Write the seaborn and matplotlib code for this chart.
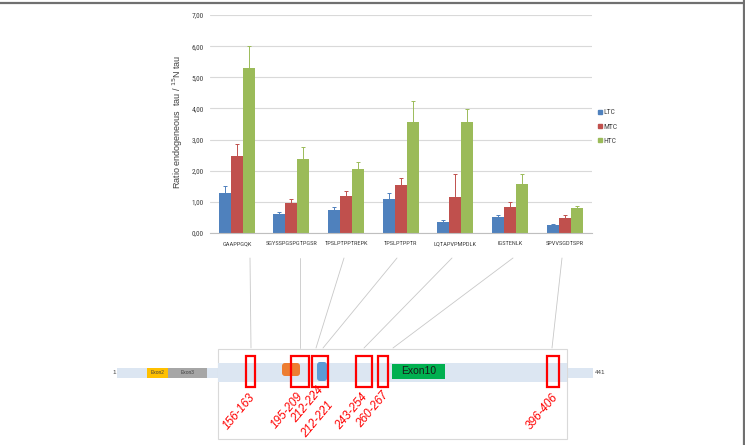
import numpy as np
import pandas as pd
import matplotlib
matplotlib.use('Agg')
import matplotlib.pyplot as plt
from matplotlib import font_manager
from matplotlib.lines import Line2D
from matplotlib.patches import Rectangle, FancyBboxPatch
from matplotlib.ticker import FuncFormatter
import seaborn as sns

## data
peptides = ['GAAPPGQK', 'SGYSSPGSPGTPGSR', 'TPSLPTPPTREPK', 'TPSLPTPPTR',
            'LQTAPVPMPDLK', 'IGSTENLK', 'SPVVSGDTSPR']
groups = ['LTC', 'MTC', 'HTC']
ltc = [1.27, 0.62, 0.75, 1.08, 0.35, 0.50, 0.26]
mtc = [2.48, 0.96, 1.18, 1.53, 1.16, 0.85, 0.48]
htc = [5.30, 2.38, 2.07, 3.57, 3.57, 1.58, 0.80]
ltc_err = [0.25, 0.06, 0.10, 0.19, 0.08, 0.07, 0.04]
mtc_err = [0.37, 0.14, 0.17, 0.25, 0.74, 0.13, 0.10]
htc_err = [0.70, 0.38, 0.20, 0.68, 0.40, 0.32, 0.08]
y_ticks = [0, 1, 2, 3, 4, 5, 6, 7]

## tau protein schematic
regions = ['156-163', '195-209', '212-224', '243-254', '260-267', '396-406']
extra_label = '212-221'
exon_labels = ['Exon2', 'Exon3', 'Exon10']
end_labels = ['1', '441']

colors = ['#4F81BD', '#C0504D', '#9BBB59']

# layout of the schematic (pixels, not to scale in the original either)
region_x = [(246, 255), (291, 309), (312, 328), (356, 372), (378, 388), (547, 559)]
region_lab = [(239, 412), (287, 411), (308, 405), (352, 412), (373, 410), (542, 412)]
link_top = [250, 300, 344, 397, 452, 513, 562]
link_bot = [251, 300, 316, 323, 364, 393, 552]

sns.set_style('white')
installed = {f.name for f in font_manager.fontManager.ttflist}
narrow = [n for n in ['Liberation Sans Narrow', 'Roboto Condensed', 'Open Sans Condensed',
                      'DejaVu Sans Condensed'] if n in installed]
plt.rcParams['font.family'] = ['Liberation Sans', 'DejaVu Sans']
small_font = narrow[:1] + ['Liberation Sans', 'DejaVu Sans']

fig = plt.figure(figsize=(7.45, 4.45), dpi=100)
ax = fig.add_axes([209.5 / 745, 1 - 233 / 445, 382.5 / 745, 218 / 445])

df = pd.DataFrame({
    'peptide': peptides * 3,
    'group': np.repeat(groups, len(peptides)),
    'ratio': ltc + mtc + htc,
})
sns.barplot(data=df, x='peptide', y='ratio', hue='group', hue_order=groups,
            palette=colors, width=0.66, errorbar=None, saturation=1,
            linewidth=0, legend=False, ax=ax)

errs = [ltc_err, mtc_err, htc_err]
for cont, err, c in zip(ax.containers, errs, colors):
    xs = [b.get_x() + b.get_width() / 2 for b in cont]
    hs = [b.get_height() for b in cont]
    ax.errorbar(xs, hs, yerr=[np.zeros(len(err)), err], fmt='none',
                ecolor=c, elinewidth=0.7, capsize=1.5, capthick=0.7)

ax.set_ylim(0, 7)
ax.set_xlim(-0.5, len(peptides) - 0.5)
ax.set_yticks(y_ticks)
ax.yaxis.set_major_formatter(FuncFormatter(lambda v, p: '{:.2f}'.format(v).replace('.', ',')))
ax.grid(axis='y', color='#d9d9d9', linewidth=0.8)
ax.set_axisbelow(True)
for s in ['left', 'top', 'right']:
    ax.spines[s].set_visible(False)
ax.spines['bottom'].set_color('#bfbfbf')
ax.spines['bottom'].set_linewidth(0.8)
ax.set_xticks(np.arange(-0.5, len(peptides)), minor=True)
ax.tick_params(axis='x', which='major', length=0, pad=6, labelsize=5.5, labelcolor='#404040')
ax.tick_params(axis='x', which='minor', length=3, color='#bfbfbf', width=0.8)
ax.tick_params(axis='y', length=0, pad=4, labelsize=5.3, labelcolor='#404040')
for t in ax.get_xticklabels() + ax.get_yticklabels():
    t.set_family(small_font)
ax.set_xlabel('')
ax.set_ylabel(r'Ratio endogeneous  tau / $^{15}$N tau', fontsize=6.5, color='#404040')
ax.yaxis.set_label_coords(-0.063, 0.51)

# shrink the peptide labels until they fit in their slot (no narrow font guaranteed)
fig.canvas.draw()
rend = fig.canvas.get_renderer()
widest = max(t.get_window_extent(rend).width for t in ax.get_xticklabels())
if widest > 52:
    ax.tick_params(axis='x', which='major', labelsize=5.5 * 52 / widest)

handles = [Line2D([], [], marker='s', linestyle='', color=c, markersize=2.8) for c in colors]
leg = fig.legend(handles, groups, loc='upper left', bbox_to_anchor=(597 / 745, 1 - 109 / 445),
                 frameon=False, fontsize=5.5, handletextpad=0.1, labelspacing=1.05,
                 borderaxespad=0, borderpad=0, handlelength=0.8, labelcolor='#404040')
for t in leg.get_texts():
    t.set_family(small_font)

## schematic
ax2 = fig.add_axes([0, 0, 1, 1])
ax2.set_xlim(0, 745)
ax2.set_ylim(445, 0)
ax2.axis('off')

# frame of the figure
ax2.plot([0, 745], [2.5, 2.5], color='#707070', lw=1.6)
ax2.plot([744, 744], [0, 445], color='#707070', lw=1.6)

for xt, xb in zip(link_top, link_bot):
    ax2.plot([xt, xb], [258, 348], color='#c8c8c8', lw=0.6)

bar_col = '#dce6f2'
ax2.add_patch(Rectangle((117, 368), 101, 10, color=bar_col, lw=0))
ax2.add_patch(Rectangle((567, 368), 26, 10, color=bar_col, lw=0))
ax2.add_patch(Rectangle((218, 349), 349, 90, facecolor='white', edgecolor='#d9d9d9', lw=0.8))
ax2.add_patch(Rectangle((218, 363), 349, 19, color=bar_col, lw=0))

ax2.add_patch(Rectangle((147, 368), 21, 10, color='#FFC000', lw=0))
ax2.add_patch(Rectangle((168, 368), 39, 10, color='#A6A6A6', lw=0))
ax2.text(157.5, 373, exon_labels[0], fontsize=3.5, ha='center', va='center', color='#404040')
ax2.text(187.5, 373, exon_labels[1], fontsize=3.5, ha='center', va='center', color='#404040')
ax2.text(114, 373, end_labels[0], fontsize=4.5, ha='center', va='center', color='#404040')
ax2.text(595, 373, end_labels[1], fontsize=4.5, ha='left', va='center', color='#404040')

ax2.add_patch(FancyBboxPatch((282, 363), 18, 13, boxstyle='round,pad=0,rounding_size=3',
                             color='#ED7D31', lw=0))
ax2.add_patch(FancyBboxPatch((317, 362), 10, 19, boxstyle='round,pad=0,rounding_size=3',
                             color='#5B9BD5', lw=0))
ax2.add_patch(Rectangle((392, 364), 53, 15, color='#00B050', lw=0))
ax2.text(418.5, 371.5, exon_labels[2], fontsize=7.5, ha='center', va='center', color='#1a1a1a')

for (x0, x1), lab, (tx, ty) in zip(region_x, regions, region_lab):
    ax2.add_patch(Rectangle((x0, 356), x1 - x0, 31, fill=False, edgecolor='#FF0000', lw=1.6))
    ax2.text(tx, ty, lab, fontsize=8.5, rotation=50, ha='center', va='center',
             color='#FF0000', style='italic')
ax2.text(318, 420, extra_label, fontsize=8.5, rotation=50, ha='center', va='center',
         color='#FF0000', style='italic')

fig.savefig('out.png', dpi=100)
